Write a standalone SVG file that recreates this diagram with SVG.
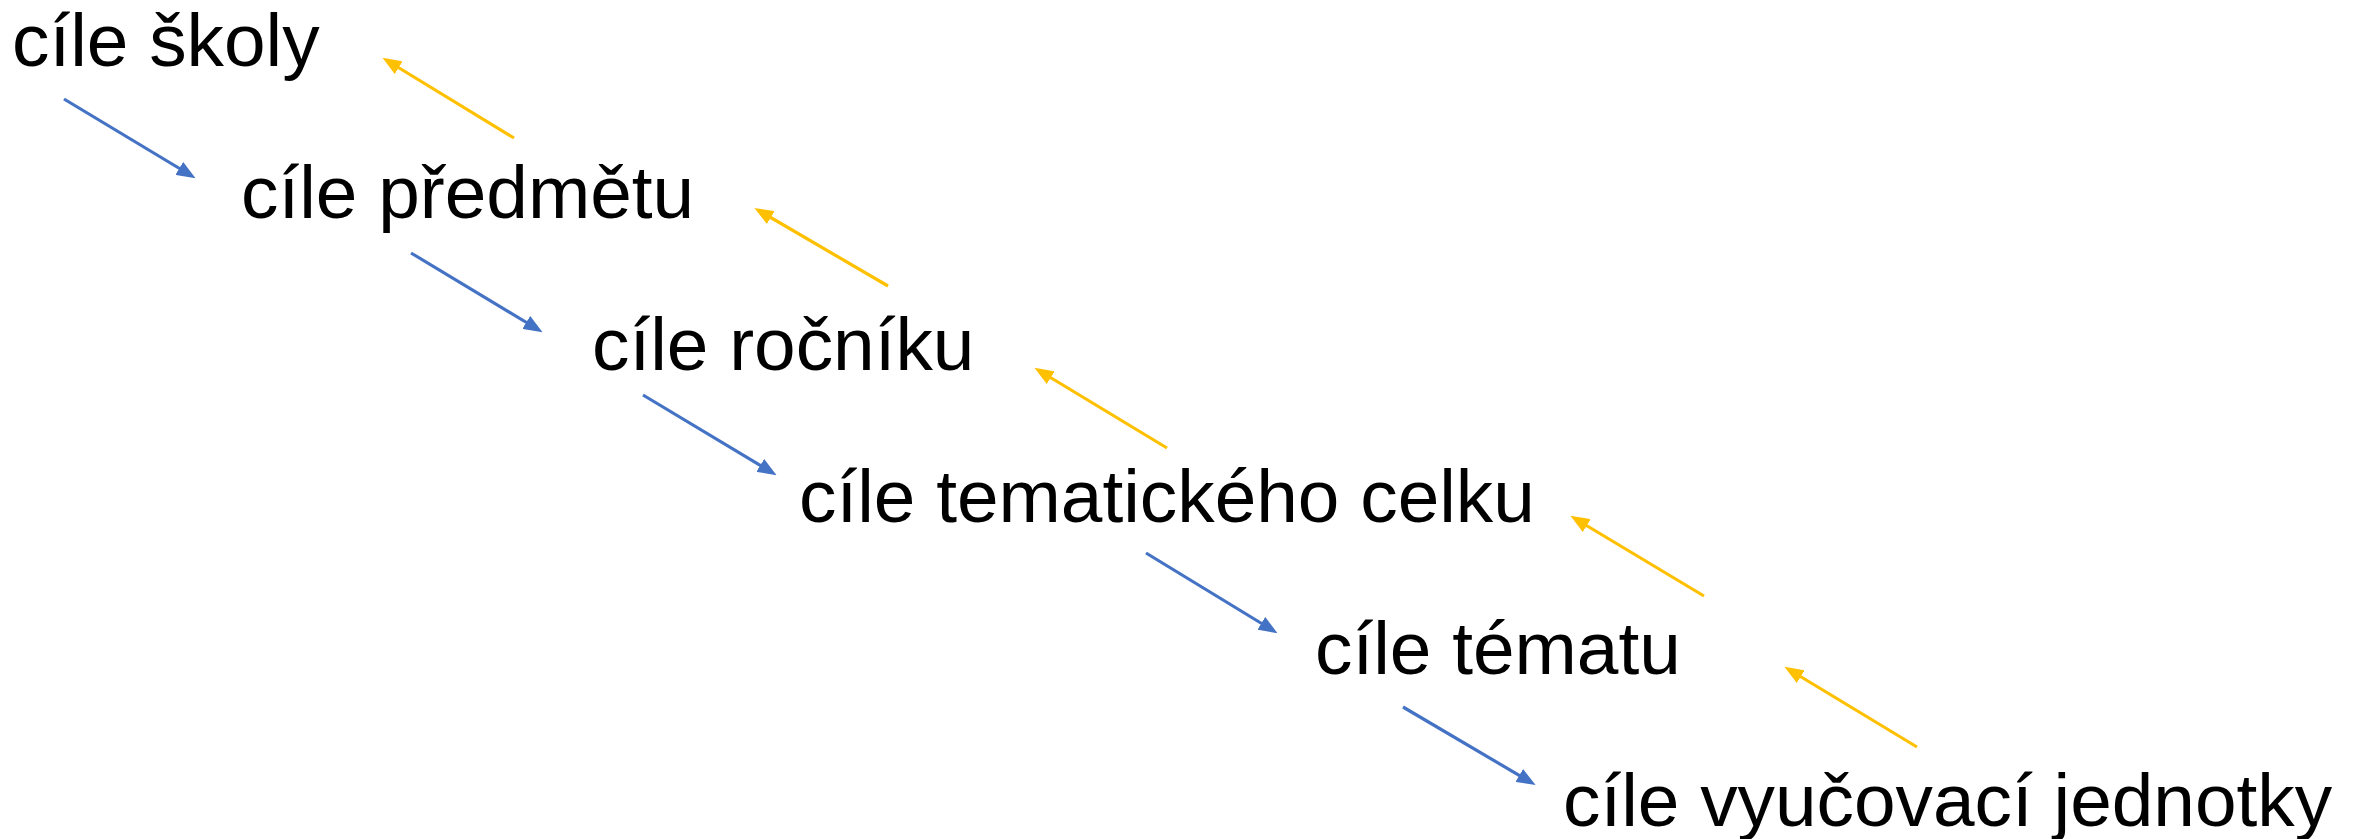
<svg xmlns="http://www.w3.org/2000/svg" width="2364" height="839" viewBox="0 0 2364 839">
<style>
text{font-family:"Liberation Sans",Arial,sans-serif;font-size:74.8px;fill:#000}
.b{stroke:#4472C4;stroke-width:3.2;fill:none}
.y{stroke:#FFC000;stroke-width:3.2;fill:none}
</style>
<defs>
<marker id="ab" markerUnits="userSpaceOnUse" viewBox="0 0 19 15" markerWidth="19" markerHeight="15" refX="9" refY="7.5" orient="auto"><path d="M0,0 L19,7.5 L0,15 z" fill="#4472C4"/></marker>
<marker id="ay" markerUnits="userSpaceOnUse" viewBox="0 0 19 15" markerWidth="19" markerHeight="15" refX="9" refY="7.5" orient="auto"><path d="M0,0 L19,7.5 L0,15 z" fill="#FFC000"/></marker>
</defs>
<rect width="2364" height="839" fill="#fff"/>
<g id="n1"><text x="12" y="66">cíle školy</text></g>
<g id="n2"><text x="241" y="218">cíle předmětu</text></g>
<g id="n3"><text x="592" y="370">cíle ročníku</text></g>
<g id="n4"><text x="799" y="522">cíle tematického celku</text></g>
<g id="n5"><text x="1315" y="674">cíle tématu</text></g>
<g id="n6"><text x="1563" y="826">cíle vyučovací jednotky</text></g>
<g id="connectors">
<path class="b" marker-end="url(#ab)" d="M64,99 L187,173"/>
<path class="b" marker-end="url(#ab)" d="M411,253 L534,327"/>
<path class="b" marker-end="url(#ab)" d="M643,395 L768,470"/>
<path class="b" marker-end="url(#ab)" d="M1146,553 L1269,628"/>
<path class="b" marker-end="url(#ab)" d="M1403,707 L1527,780"/>
<path class="y" marker-end="url(#ay)" d="M514,138 L391,63"/>
<path class="y" marker-end="url(#ay)" d="M888,286 L763,213"/>
<path class="y" marker-end="url(#ay)" d="M1167,448 L1043,373"/>
<path class="y" marker-end="url(#ay)" d="M1704,596 L1579,521"/>
<path class="y" marker-end="url(#ay)" d="M1917,747 L1793,672"/>
</g>
</svg>
